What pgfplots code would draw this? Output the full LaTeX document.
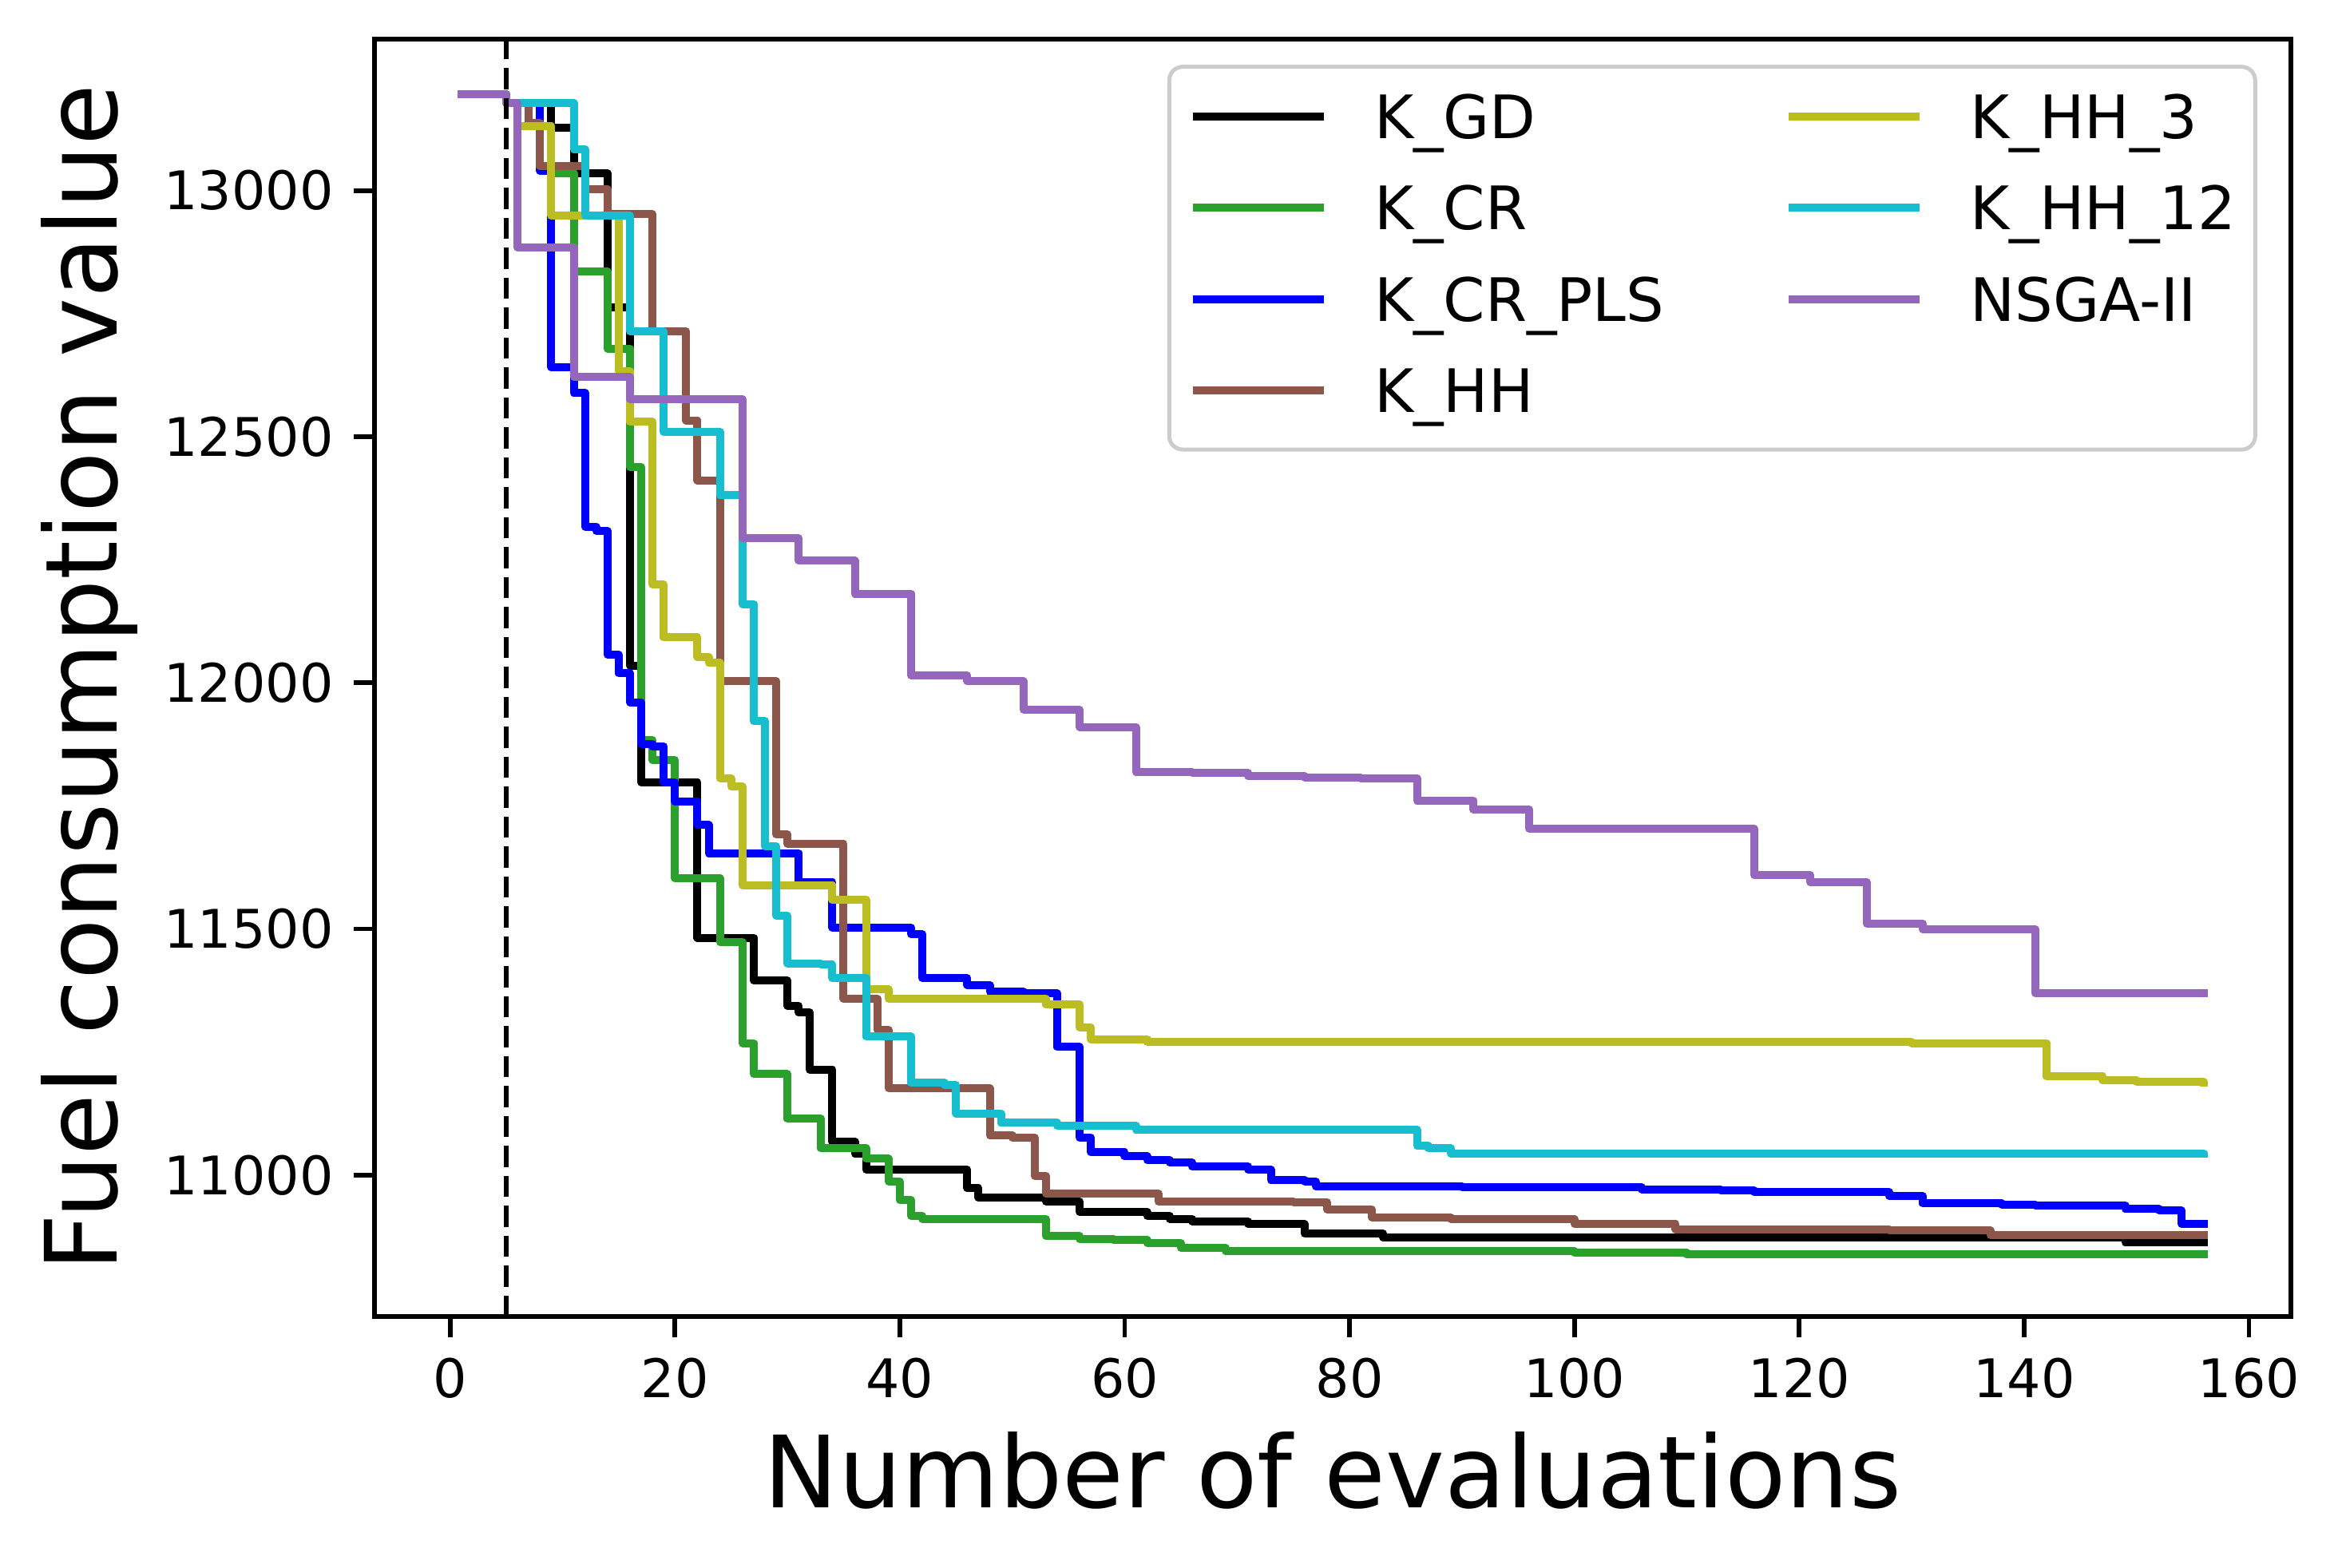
\documentclass[border=0pt]{standalone}
\usepackage{fontspec}
\setmainfont{DejaVu Sans}
\usepackage{pgfplots}
\pgfplotsset{compat=1.18}
\definecolor{cgreen}{HTML}{2CA02C}
\definecolor{cbrown}{HTML}{8C564B}
\definecolor{colive}{HTML}{BCBD22}
\definecolor{ccyan}{HTML}{17BECF}
\definecolor{cpurple}{HTML}{9467BD}
\definecolor{cframe}{HTML}{CCCCCC}
\begin{document}
\begin{tikzpicture}
\useasboundingbox (0,0) rectangle (351.96pt,235.68pt);
\begin{axis}[
  at={(56.24pt,37.76pt)}, anchor=south west,
  scale only axis, width=288.07pt, height=192.07pt,
  xmin=-6.75, xmax=163.75, ymin=10712, ymax=13308,
  scaled x ticks=false, scaled y ticks=false,
  xtick={0,20,40,60,80,100,120,140,160},
  xticklabels={0,20,40,60,80,100,120,140,160},
  ytick={11000,11500,12000,12500,13000},
  yticklabels={11000,11500,12000,12500,13000},
  xtick pos=left, ytick pos=left, tick align=outside,
  major tick length=3.1pt, minor tick num=0,
  tick style={black, line width=0.7pt},
  axis line style={black, line width=0.7pt},
  tick label style={font=\fontsize{8}{9.6}\selectfont, inner sep=0pt},
  xticklabel style={anchor=base, yshift=-9.05pt},
  yticklabel style={anchor=east, xshift=-2.82pt},
  xlabel={Number of evaluations},
  ylabel={Fuel consumption value},
  every axis x label/.style={at={(axis description cs:0.5,-0.1493)}, anchor=base,
    font=\fontsize{15}{18}\selectfont},
  every axis y label/.style={at={(axis description cs:-0.1341,0.5)}, anchor=base,
    rotate=90, font=\fontsize{15}{18}\selectfont},
  legend image code/.code={\draw[#1, line cap=butt] (0pt,0.7pt) -- (19.7pt,0.7pt);},
  legend style={at={(0.9823,0.9797)}, anchor=north east, draw=cframe, line width=0.6pt,
    rounded corners=2pt, fill=white, inner xsep=2.9pt, inner ysep=4.9pt,
    font=\fontsize{9}{10.8}\selectfont, cells={anchor=west},
    nodes={inner sep=0pt, text height=5.86pt, text depth=0.7pt},
    column sep=7pt, /tikz/every even column/.append style={column sep=18.1pt},
    row sep=7.16pt},
  legend columns=2,
  every axis plot/.append style={line width=1.2pt, line join=round, line cap=rect},
]
% K_GD
\addplot[const plot, black, forget plot] coordinates {
(1,13195) (5,13178) (9,13127) (11,13035) (14,12762) (16,12035) (17,11798) (22,11482)
(27,11395) (30,11344) (31,11330) (32,11214) (34,11068) (36,11044) (37,11011) (46,10973)
(47,10954) (53,10946) (56,10925) (62,10917) (64,10911) (66,10906) (71,10900) (76,10881)
(83,10873) (149,10863) (156,10863)};
% K_CR
\addplot[const plot, cgreen, forget plot] coordinates {
(1,13195) (5,13178) (8,13130) (9,13035) (11,12835) (14,12679) (16,12438) (17,11884)
(18,11843) (20,11603) (24,11473) (26,11268) (27,11205) (30,11114) (33,11054) (37,11033)
(39,10987) (40,10949) (41,10917) (42,10911) (53,10876) (56,10870) (59,10868) (62,10862)
(65,10852) (69,10845) (100,10842) (110,10839) (156,10839)};
% K_CR_PLS
\addplot[const plot, blue, forget plot] coordinates {
(1,13195) (5,13178) (8,13040) (9,12641) (11,12589) (12,12317) (13,12308) (14,12057)
(15,12019) (16,11960) (17,11876) (18,11871) (19,11798) (20,11759) (22,11711) (23,11654)
(31,11595) (34,11503) (41,11489) (42,11400) (46,11386) (48,11373) (51,11369) (54,11260)
(56,11076) (57,11046) (60,11038) (62,11030) (64,11025) (66,11017) (71,11011) (73,10990)
(76,10987) (77,10977) (90,10975) (106,10971) (113,10968) (116,10965) (128,10957)
(131,10942) (138,10940) (141,10938) (149,10931) (152,10928) (154,10901) (156,10901)};
% K_HH
\addplot[const plot, cbrown, forget plot] coordinates {
(1,13195) (5,13178) (7,13138) (8,13049) (12,13003) (14,12952) (18,12714) (21,12533)
(22,12411) (24,12003) (29,11692) (30,11673) (35,11358) (38,11295) (39,11176) (48,11081)
(50,11076) (52,10998) (53,10962) (63,10946) (75,10945) (78,10930) (82,10914) (89,10911)
(100,10901) (109,10890) (128,10887) (137,10878) (156,10878)};
% K_HH_3
\addplot[const plot, colive, forget plot] coordinates {
(1,13195) (5,13178) (6,13130) (9,12949) (15,12633) (16,12530) (18,12200) (19,12092)
(22,12052) (23,12041) (24,11806) (25,11789) (26,11589) (34,11559) (37,11377) (39,11358)
(53,11346) (56,11300) (57,11276) (62,11270) (130,11268) (142,11200) (147,11192)
(150,11189) (156,11188)};
% K_HH_12
\addplot[const plot, ccyan, forget plot] coordinates {
(1,13195) (5,13178) (11,13084) (12,12949) (16,12714) (19,12510) (24,12381) (26,12160)
(27,11922) (28,11668) (29,11527) (30,11430) (33,11427) (34,11400) (37,11281) (41,11187)
(44,11183) (45,11125) (49,11106) (54,11100) (61,11092) (86,11060) (87,11054) (89,11044)
(156,11043)};
% NSGA-II
\addplot[const plot, cpurple, forget plot] coordinates {
(1,13195) (5,13178) (6,12884) (11,12622) (16,12576) (26,12294) (31,12248) (36,12181)
(41,12015) (46,12003) (51,11945) (56,11910) (61,11819) (66,11817) (71,11810) (76,11808)
(81,11806) (86,11761) (91,11743) (96,11703) (116,11609) (121,11595) (126,11511)
(131,11499) (141,11369) (156,11369)};
% initial design marker
\addplot[black, line width=0.8pt, line cap=butt, dash pattern=on 3.2pt off 1.3pt, forget plot]
  coordinates {(5,10712) (5,13308)};
% legend (row-major order, two columns)
\addlegendimage{black, line width=1.2pt}\addlegendentry{K\_GD}
\addlegendimage{colive, line width=1.2pt}\addlegendentry{K\_HH\_3}
\addlegendimage{cgreen, line width=1.2pt}\addlegendentry{K\_CR}
\addlegendimage{ccyan, line width=1.2pt}\addlegendentry{K\_HH\_12}
\addlegendimage{blue, line width=1.2pt}\addlegendentry{K\_CR\_PLS}
\addlegendimage{cpurple, line width=1.2pt}\addlegendentry{NSGA-II}
\addlegendimage{cbrown, line width=1.2pt}\addlegendentry{K\_HH}
\end{axis}
\end{tikzpicture}
\end{document}
